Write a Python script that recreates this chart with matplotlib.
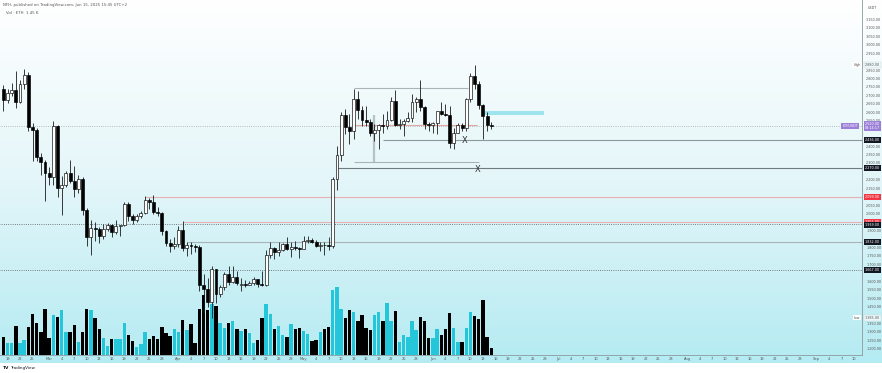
import numpy as np
import pandas as pd
import matplotlib
matplotlib.use("Agg")
import matplotlib.pyplot as plt
from matplotlib.patches import Rectangle
from matplotlib.colors import LinearSegmentedColormap
from matplotlib.transforms import blended_transform_factory

# --- DANE: ETH/USDT 1D, od 18.02.2025 ---
start = pd.Timestamp("2025-02-18")

opens = [2740, 2673, 2714, 2735, 2662, 2768, 2821, 2513, 2495, 2336, 2306, 2241, 2217, 2518, 2150, 2170,
         2240, 2195, 2145, 2205, 2020, 1860, 1915, 1910, 1865, 1910, 1935, 1890, 1925, 1930, 2055, 1985,
         1965, 1985, 2006, 2080, 2067, 2011, 2003, 1896, 1827, 1806, 1822, 1904, 1795, 1816, 1807, 1803,
         1580, 1555, 1475, 1670, 1522, 1566, 1645, 1595, 1625, 1578, 1583, 1580, 1588, 1614, 1586, 1578,
         1755, 1795, 1770, 1785, 1818, 1792, 1800, 1797, 1793, 1840, 1843, 1834, 1807, 1816, 1812, 1808,
         2206, 2345, 2582, 2515, 2490, 2680, 2612, 2555, 2540, 2480, 2495, 2525, 2520, 2555, 2665, 2525,
         2530, 2550, 2565, 2660, 2680, 2630, 2530, 2527, 2535, 2605, 2590, 2585, 2420, 2480, 2525, 2510,
         2680, 2815, 2770, 2645, 2580, 2525]
highs = [2762, 2740, 2774, 2845, 2790, 2855, 2838, 2535, 2510, 2360, 2320, 2275, 2550, 2525, 2220, 2250,
         2320, 2285, 2230, 2215, 2035, 1965, 1950, 1920, 1940, 1945, 1940, 1960, 1935, 2070, 2070, 2000,
         1995, 2015, 2105, 2090, 2110, 2040, 2010, 1905, 1850, 1860, 1925, 1955, 1830, 1835, 1820, 1815,
         1645, 1620, 1690, 1672, 1580, 1655, 1690, 1690, 1660, 1620, 1610, 1600, 1625, 1615, 1660, 1785,
         1830, 1800, 1830, 1825, 1860, 1830, 1840, 1805, 1870, 1870, 1855, 1845, 1830, 1830, 1860, 2215,
         2400, 2600, 2620, 2590, 2740, 2725, 2640, 2640, 2560, 2530, 2530, 2590, 2610, 2690, 2735, 2560,
         2560, 2600, 2710, 2690, 2790, 2640, 2545, 2545, 2610, 2660, 2650, 2640, 2510, 2535, 2535, 2685,
         2830, 2880, 2785, 2650, 2600, 2545]
lows = [2610, 2655, 2695, 2625, 2655, 2740, 2490, 2310, 2310, 2230, 2076, 2170, 2170, 2100, 1990, 2160,
        2180, 2100, 2120, 1990, 1810, 1755, 1840, 1825, 1850, 1900, 1860, 1880, 1870, 1925, 1955, 1940,
        1950, 1975, 2000, 2030, 1995, 1985, 1875, 1810, 1775, 1790, 1805, 1780, 1750, 1760, 1770, 1540,
        1410, 1450, 1385, 1470, 1505, 1545, 1575, 1590, 1580, 1540, 1565, 1575, 1580, 1566, 1570, 1570,
        1740, 1730, 1750, 1780, 1785, 1745, 1785, 1740, 1790, 1825, 1825, 1800, 1780, 1755, 1785, 1795,
        2140, 2310, 2470, 2410, 2440, 2560, 2520, 2520, 2460, 2430, 2380, 2480, 2500, 2550, 2520, 2500,
        2460, 2540, 2540, 2600, 2610, 2500, 2490, 2480, 2470, 2585, 2580, 2390, 2385, 2475, 2490, 2490,
        2660, 2740, 2620, 2440, 2490, 2500]
closes = [2673, 2714, 2735, 2662, 2768, 2821, 2513, 2495, 2336, 2306, 2241, 2217, 2518, 2150, 2170, 2240,
          2195, 2145, 2205, 2020, 1860, 1915, 1910, 1865, 1910, 1935, 1890, 1925, 1930, 2055, 1985, 1965,
          1985, 2006, 2080, 2067, 2011, 2003, 1896, 1827, 1806, 1822, 1904, 1795, 1816, 1807, 1803, 1580,
          1555, 1475, 1670, 1522, 1566, 1645, 1595, 1625, 1588, 1583, 1580, 1588, 1614, 1586, 1578, 1755,
          1795, 1770, 1785, 1818, 1792, 1800, 1797, 1793, 1840, 1843, 1834, 1807, 1816, 1812, 1808, 2206,
          2345, 2582, 2515, 2490, 2680, 2612, 2555, 2540, 2480, 2495, 2525, 2520, 2555, 2665, 2525, 2530,
          2550, 2565, 2660, 2680, 2630, 2530, 2527, 2535, 2605, 2590, 2585, 2420, 2480, 2525, 2510, 2680,
          2815, 2770, 2645, 2580, 2525, 2520]
volume = [17.7, 11.7, 11.7, 29.3, 12.3, 15, 28.3, 40.7, 32.3, 22.7, 45.7, 16.7, 40, 37.7, 45, 22.7,
          22.7, 30, 13, 23.3, 45.7, 45, 36.7, 25.7, 17.3, 9, 15.7, 15.7, 15.7, 31.7, 20, 14,
          8.3, 11, 22.7, 15.7, 19, 16, 27.7, 21.7, 19, 25.7, 22.7, 34.7, 25, 31, 11.7, 46,
          60, 45, 51, 49, 31.7, 27.3, 32.3, 34.3, 26, 24, 26, 22, 12.3, 15, 36.7, 50.7,
          40.7, 25.7, 29.3, 20, 17.7, 31, 26, 27.3, 24, 21, 14, 15, 22.7, 25.7, 28.3, 65,
          68.3, 45.7, 36.7, 45, 42.7, 34, 40, 27.3, 25, 40, 43.3, 34, 51.7, 34.3, 44.3, 13.3,
          20, 18.3, 34, 25, 37.7, 34.3, 17.3, 17.3, 25.7, 20, 25.7, 41.7, 26.7, 13.3, 13, 27.3,
          42.7, 39, 36, 55, 17.7, 6.7]

# poziomy narysowane na wykresie: (cena, poczatek [idx], koniec, kolor, styl)
levels = [
    (2099, 34, None, "#eab0b0", "-"),
    (1951, 43, None, "#eab0b0", "-"),
    (1939, None, None, "#555555", ":"),
    (1832, 44, None, "#a9b4b8", "-"),
    (1667, None, None, "#555555", ":"),
    (2520, None, None, "#9aa8ad", ":"),
    (2436, 91, None, "#8c9a9e", "-"),
    (2270, 80, None, "#6f7b7f", "-"),
    (2744, 84, 111.5, "#a9b4b8", "-"),
    (2525, 84, 113.5, "#e3a9a0", "-"),
    (2306, 84, 114, "#a9b4b8", "-"),
]

# etykiety na osi cen: (cena, tekst, tlo)
tags = [
    (2880, "2,880.00", None),
    (2520, "2,520.00\n08:14:17", "#9c80d8"),
    (2436, "2,436.00", "#131722"),
    (2270, "2,270.00", "#131722"),
    (2099, "2,099.00", "#f23645"),
    (1951, "1,951.00", "#f23645"),
    (1932, "1,939.00", "#131722"),
    (1832, "1,832.00", "#131722"),
    (1667, "1,667.00", "#131722"),
    (1385, "1,385.00", None),
]

W, H = 882, 373
n = len(closes)
idx = np.arange(n)
o, h, l, c = map(np.array, (opens, highs, lows, closes))
up = c >= o

def fx(px):
    return px / W

def fy(py):
    return 1 - py / H

fig = plt.figure(figsize=(W / 100, H / 100), dpi=100, facecolor="white")

# tlo - gradient
bg = fig.add_axes([0, fy(363), 1, 363 / H])
grad = np.linspace(0, 1, 256).reshape(-1, 1)
cmap = LinearSegmentedColormap.from_list("tv", ["#ffffff", "#e4f6f9", "#b4ebf2"])
bg.imshow(grad, aspect="auto", cmap=cmap, extent=[0, 1, 0, 1], origin="upper")
bg.axis("off")

pos = [0, fy(355), fx(862), 355 / H]

# wolumen
vax = fig.add_axes(pos)
vax.patch.set_visible(False)
vax.bar(idx, volume, width=0.82, color=np.where(up, "#26c6da", "#000000"), linewidth=0)
vax.set_ylim(0, 355)
vax.axis("off")

# swiece
ax = fig.add_axes(pos, sharex=vax)
ax.patch.set_visible(False)
ax.set_xlim(-0.8, 205.9)
ax.set_ylim(1163, 3265)

ax.vlines(idx, l, h, color="#1a1a1a", lw=0.6, zorder=3)
body = np.maximum(np.abs(c - o), 3)
ax.bar(idx, body, bottom=np.minimum(o, c), width=0.7,
       color=np.where(up, "white", "black"), edgecolor="black", linewidth=0.45, zorder=4)

for price, x0, x1, col, ls in levels:
    a = -1 if x0 is None else x0
    b = 206 if x1 is None else x1
    ax.hlines(price, a, b, colors=col, linestyles=ls, lw=0.8 if ls == "-" else 0.6, zorder=2)

ax.vlines(89, 2306, 2584, colors="#b5c2c6", lw=1.6, zorder=2)
ax.add_patch(Rectangle((115, 2584), 14.7, 24, facecolor="#8fe1ec", edgecolor="none", alpha=0.85, zorder=2))
ax.text(110.7, 2436, "X", fontsize=6, color="#333333", ha="center", va="center", zorder=5)
ax.text(113.8, 2262, "X", fontsize=6, color="#333333", ha="center", va="center", zorder=5)

# os cen
tag_prices = [t[0] for t in tags]
yt = [p for p in range(1200, 3200, 50) if min(abs(p - q) for q in tag_prices) > 28]
ax.yaxis.tick_right()
ax.set_yticks(yt)
ax.set_yticklabels([f"{p:,.2f}" for p in yt])
ax.tick_params(axis="y", length=0, labelsize=2.4, labelcolor="#555555", pad=3)

# os czasu
month_starts = pd.date_range("2025-02-01", "2025-09-01", freq="MS")
xt, xl = [], []
for m in month_starts:
    d_m = (m - start).days
    if d_m > 0:
        xt.append(d_m)
        xl.append(m.strftime("%b"))
    nxt = m + pd.offsets.MonthBegin(1)
    for d in [4, 7, 10, 13, 16, 19, 22, 25, 28]:
        day = m + pd.Timedelta(days=d - 1)
        k = (day - start).days
        if k > 0 and (nxt - day).days >= 3 and k < 205:
            xt.append(k)
            xl.append(str(d))
ax.set_xticks(xt)
ax.set_xticklabels(xl)
ax.tick_params(axis="x", length=0, labelsize=2.6, labelcolor="#555555", pad=1.5)

for s in ["top", "left"]:
    ax.spines[s].set_visible(False)
ax.spines["right"].set_color("#8a9a9e")
ax.spines["right"].set_linewidth(0.6)
ax.spines["bottom"].set_color("#8a9a9e")
ax.spines["bottom"].set_linewidth(0.6)

# etykiety kolorowe na osi
tr = blended_transform_factory(ax.transAxes, ax.transData)
xa = 872 / 862
for price, txt, col in tags:
    if col is None:
        ax.text(xa, price, txt, transform=tr, fontsize=2.4, color="#555555", ha="center", va="center",
                clip_on=False, zorder=6,
                bbox=dict(boxstyle="square,pad=0.3", fc="#eef7f9", ec="#c9d6da", lw=0.3))
    else:
        ax.text(xa, price, txt, transform=tr, fontsize=2.4, color="white", ha="center", va="center",
                clip_on=False, zorder=6, linespacing=1.1,
                bbox=dict(boxstyle="square,pad=0.3", fc=col, ec="none"))

ax.text(850 / 862, 2520, "ETHUSDT", transform=tr, fontsize=2.3, color="white", ha="center", va="center",
        clip_on=False, zorder=6, bbox=dict(boxstyle="square,pad=0.3", fc="#9c80d8", ec="none"))
ax.text(857 / 862, 2880, "High", transform=tr, fontsize=2.3, color="#555555", ha="center", va="center",
        clip_on=False, zorder=6, bbox=dict(boxstyle="square,pad=0.3", fc="white", ec="none"))
ax.text(857 / 862, 1385, "Low", transform=tr, fontsize=2.3, color="#555555", ha="center", va="center",
        clip_on=False, zorder=6, bbox=dict(boxstyle="square,pad=0.3", fc="white", ec="none"))

# naglowki
fig.text(fx(3), fy(5), "NFH, published on TradingView.com, Jun 15, 2025 15:45 UTC+2",
         fontsize=2.8, color="#555555", va="center")
fig.text(fx(6), fy(13), "Vol · ETH  1.45 K", fontsize=2.8, color="#555555", va="center")
fig.text(fx(872), fy(8), "USDT", fontsize=2.4, color="#555555", ha="center", va="center")
fig.text(fx(3), fy(368), "TV", fontsize=3.2, color="#131722", fontweight="bold", va="center")
fig.text(fx(10), fy(368), "TradingView", fontsize=3, color="#131722", va="center")

fig.savefig("out.png", dpi=100, facecolor="white")
